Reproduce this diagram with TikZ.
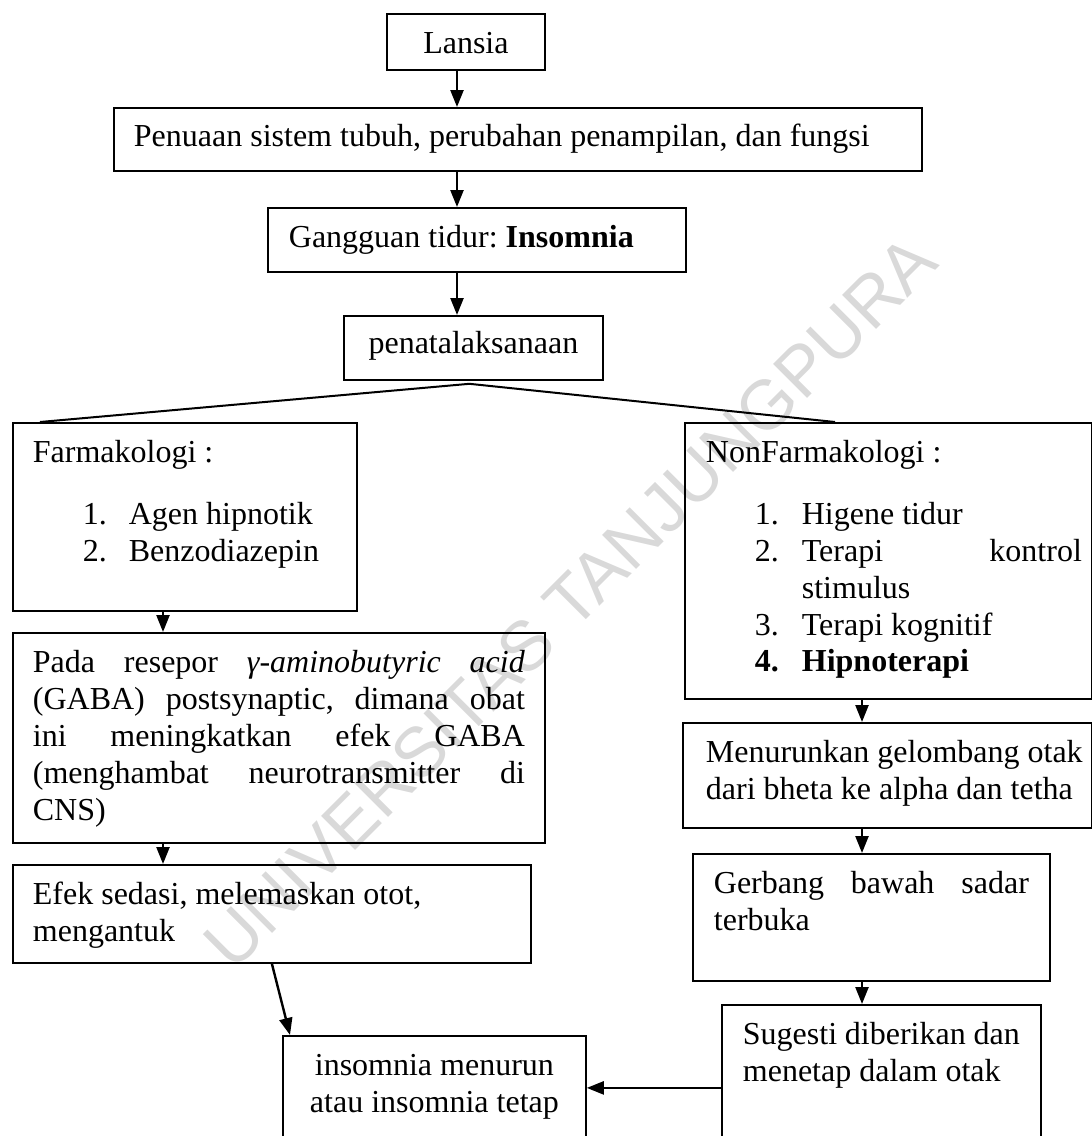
\documentclass[tikz,border=0pt]{standalone}
\usepackage{fontspec}
\setmainfont{Liberation Serif}
\newfontfamily\wmfont{Liberation Sans}
\usepackage{xcolor}
\usepackage{tikz}
\usetikzlibrary{positioning,arrows.meta,calc}

\begin{document}
\begin{tikzpicture}[x=1pt,y=-1pt,>={Triangle[length=17pt,width=13pt]},
    font=\fontsize{32}{36.8}\selectfont\frenchspacing,
    flowbox/.style={draw,line width=1.8pt,anchor=north west,inner ysep=0pt,inner xsep=20pt,align=flush left,text height=40pt},
    flowarr/.style={->,line width=2.4pt},
    branch/.style={line width=2pt}]
  \useasboundingbox (0,0) rectangle (1092,1136);
  % watermark (behind the chart)
  \node[rotate=45,text=black!15,font=\wmfont\fontsize{70}{70}\selectfont] (wm) at (570,602) {UNIVERSITAS TANJUNGPURA};
  % arrow columns
  \coordinate (ax) at (457,0);
  \coordinate (lx) at (163,0);
  \coordinate (rx) at (862,0);
  % main chain
  \node[flowbox,align=flush center,text width=118pt,text depth=16pt] (lansia) at (386,13) {Lansia};
  \node[flowbox,text width=768pt,text height=39pt,text depth=24pt] (penuaan) at (113,107) {Penuaan sistem tubuh, perubahan penampilan, dan fungsi};
  \node[flowbox,inner xsep=21pt,text width=376pt,text depth=24pt] (gangguan) at (267,207) {Gangguan tidur: \textbf{Insomnia}};
  \node[flowbox,align=flush center,text width=219pt,text height=38pt,text depth=26pt] (penata) at (343,315) {penatalaksanaan};
  \draw[flowarr] (lansia.south -| ax) -- (penuaan.north -| ax);
  \draw[flowarr] (penuaan.south -| ax) -- (gangguan.north -| ax);
  \draw[flowarr] (gangguan.south -| ax) -- (penata.north -| ax);
  % left branch: farmakologi
  \node[flowbox,text width=304pt,text depth=148pt] (farm) at (12,422) {Farmakologi :\\[25pt]
    \hspace*{50pt}\makebox[46pt][l]{1.}Agen hipnotik\\
    \hspace*{50pt}\makebox[46pt][l]{2.}Benzodiazepin};
  \node[flowbox,text width=492pt,text depth=170pt] (pada) at (12,632) {Pada\hfill resepor\hfill \textit{γ-aminobutyric}\hfill \textit{acid}\\
    (GABA)\hfill postsynaptic,\hfill dimana\hfill obat\\
    ini\hfill meningkatkan\hfill efek\hfill GABA\\
    (menghambat\hfill neurotransmitter\hfill di\\
    CNS)};
  \node[flowbox,text width=478pt,text depth=58pt] (efek) at (12,864) {Efek sedasi, melemaskan otot,\\ mengantuk};
  \draw[flowarr] (farm.south -| lx) -- (pada.north -| lx);
  \draw[flowarr] (pada.south -| lx) -- (efek.north -| lx);
  % right branch: nonfarmakologi
  \node[flowbox,inner xsep=10pt,text width=387pt,text depth=236pt] (nonfarm) at (684,422) {\hspace*{11pt}NonFarmakologi :\\[25pt]
    \hspace*{60pt}\makebox[47pt][l]{1.}Higene tidur\\
    \hspace*{60pt}\makebox[47pt][l]{2.}Terapi\hfill kontrol\\
    \hspace*{107pt}stimulus\\
    \hspace*{60pt}\makebox[47pt][l]{3.}Terapi kognitif\\
    \hspace*{60pt}\makebox[47pt][l]{\textbf{4.}}\textbf{Hipnoterapi}};
  \node[flowbox,inner xsep=7pt,text width=395pt,text depth=65pt] (turun) at (682,722) {\hspace*{16pt}Menurunkan gelombang otak\\
    \hspace*{16pt}dari bheta ke alpha dan tetha};
  \node[flowbox,inner xsep=21pt,text width=315pt,text depth=87pt] (gerbang) at (692,853) {Gerbang\hfill bawah\hfill sadar\\ terbuka};
  \node[flowbox,inner xsep=21pt,text width=277pt,text depth=126pt] (sugesti) at (721,1004) {Sugesti\hfill diberikan\hfill dan\\ menetap dalam otak};
  \draw[flowarr] (nonfarm.south -| rx) -- (turun.north -| rx);
  \draw[flowarr] (turun.south -| rx) -- (gerbang.north -| rx);
  \draw[flowarr] (gerbang.south -| rx) -- (sugesti.north -| rx);
  % outcome
  \node[flowbox,align=flush center,text width=263pt,text depth=85pt] (hasil) at (282,1035) {insomnia menurun\\ atau insomnia tetap};
  \draw[flowarr] (efek.south) -- ($(hasil.north west)+(8,0)$);
  \draw[flowarr] (sugesti.west) -- (sugesti.west -| hasil.east);
  % split below penatalaksanaan
  \coordinate (apex) at ($(penata.south)+(-4,3)$);
  \draw[branch] ($(farm.north west)+(28,0)$) -- (apex) -- ($(nonfarm.north west)+(151,0)$);
\end{tikzpicture}
\end{document}
